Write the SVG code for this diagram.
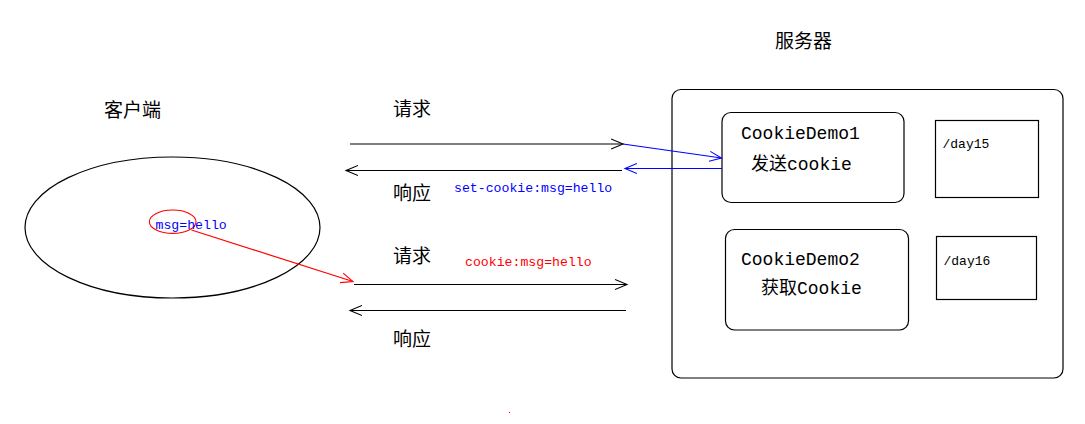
<svg xmlns="http://www.w3.org/2000/svg" width="1085" height="424" viewBox="0 0 1085 424">
<style>
.cjk{font-family:"Noto Sans CJK SC","Noto Sans",sans-serif;font-size:19px;fill:#000}
.mono{font-family:"Liberation Mono","Noto Sans CJK SC",monospace;fill:#000}
.box{fill:#fff;stroke:#000;stroke-width:1.2}
.ln{fill:none;stroke-width:1.2}
</style>
<defs>
<marker id="ak" markerUnits="userSpaceOnUse" markerWidth="14" markerHeight="12" refX="12" refY="6" orient="auto"><path d="M0,1 L12,6 L0,11" fill="none" stroke="#000" stroke-width="1.1"/></marker>
<marker id="ab" markerUnits="userSpaceOnUse" markerWidth="14" markerHeight="12" refX="12" refY="6" orient="auto"><path d="M0,1 L12,6 L0,11" fill="none" stroke="#0000ff" stroke-width="1.1"/></marker>
<marker id="ar" markerUnits="userSpaceOnUse" markerWidth="14" markerHeight="12" refX="12" refY="6" orient="auto"><path d="M0,1 L12,6 L0,11" fill="none" stroke="#ff0000" stroke-width="1.1"/></marker>
</defs>
<rect width="1085" height="424" fill="#fff"/>
<text class="cjk" x="775" y="48">服务器</text>
<text class="cjk" x="104" y="117">客户端</text>
<g id="client">
<ellipse cx="172.5" cy="227.5" rx="147.5" ry="70.5" fill="none" stroke="#000" stroke-width="1.2"/>
<ellipse cx="172.7" cy="221.7" rx="23.3" ry="11.7" fill="none" stroke="#ff0000" stroke-width="1.1"/>
<text class="mono" x="155.5" y="229" font-size="13.2" fill="#0000ff" style="fill:#0000ff">msg=hello</text>
</g>
<g id="server">
<rect class="box" x="672" y="89.5" width="391" height="288.5" rx="9"/>
<g id="demo1">
<rect class="box" x="722" y="112.5" width="182" height="90" rx="9"/>
<text class="mono" x="741" y="139" font-size="18">CookieDemo1</text>
<text class="mono" x="751" y="170" font-size="18">发送cookie</text>
</g>
<g id="demo2">
<rect class="box" x="725.5" y="229.5" width="183" height="100.5" rx="9"/>
<text class="mono" x="741" y="265" font-size="18">CookieDemo2</text>
<text class="mono" x="761" y="294" font-size="18">获取Cookie</text>
</g>
<g id="day15">
<rect class="box" x="935.5" y="120.5" width="103" height="77" fill="none"/>
<text class="mono" x="942.5" y="147.5" font-size="13">/day15</text>
</g>
<g id="day16">
<rect class="box" x="936.5" y="236.5" width="100" height="63"/>
<text class="mono" x="943.5" y="265" font-size="13">/day16</text>
</g>
</g>
<g id="connectors">
<line class="ln" x1="350" y1="144" x2="623" y2="144" stroke="#000" marker-end="url(#ak)"/>
<line class="ln" x1="623" y1="144" x2="721.5" y2="158" stroke="#0000ff" marker-end="url(#ab)"/>
<line class="ln" x1="622" y1="170.5" x2="346" y2="170.5" stroke="#000" marker-end="url(#ak)"/>
<line class="ln" x1="722" y1="168.5" x2="625" y2="168.5" stroke="#0000ff" marker-end="url(#ab)"/>
<line class="ln" x1="191.5" y1="230" x2="353" y2="281.5" stroke="#ff0000" marker-end="url(#ar)"/>
<line class="ln" x1="354" y1="284.5" x2="627" y2="284.5" stroke="#000" marker-end="url(#ak)"/>
<line class="ln" x1="626" y1="310.5" x2="350" y2="310.5" stroke="#000" marker-end="url(#ak)"/>
<text class="cjk" x="393" y="116">请求</text>
<text class="cjk" x="393" y="200">响应</text>
<text class="mono" x="454" y="192" font-size="13.2" style="fill:#0000ff">set-cookie:msg=hello</text>
<text class="cjk" x="393" y="263">请求</text>
<text class="mono" x="465" y="266" font-size="13.2" style="fill:#ff0000">cookie:msg=hello</text>
<text class="cjk" x="393" y="346">响应</text>
</g>
<rect x="509" y="412" width="1" height="1" fill="#ff0000"/>
</svg>
